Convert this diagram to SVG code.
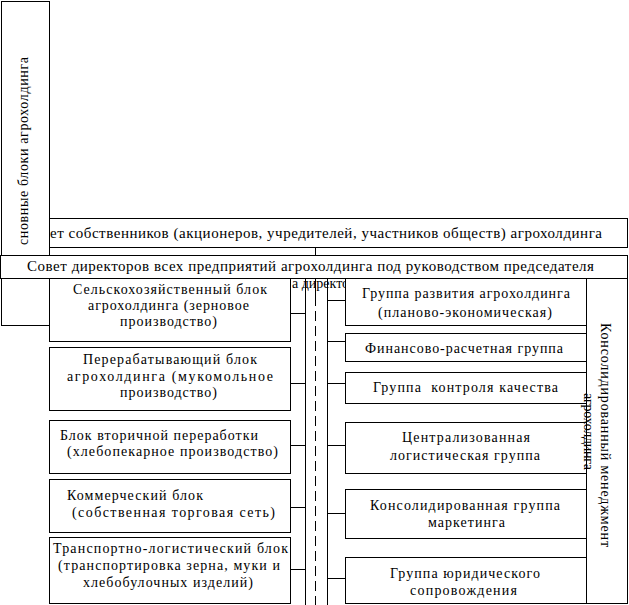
<svg xmlns="http://www.w3.org/2000/svg" width="629" height="605" viewBox="0 0 629 605">
<style>
.b{fill:#fff;stroke:#000;stroke-width:1}
.c{stroke:#000;stroke-width:1;fill:none}
.d{stroke-dasharray:10 5}
</style>
<g id="owners">
<rect class="b" x="40.5" y="218.5" width="587" height="29"/>
<text font-family="Liberation Serif" font-size="15" x="50" y="238" textLength="552" lengthAdjust="spacing">ет собственников (акционеров, учредителей, участников обществ) агрохолдинга</text>
</g>
<g id="main-blocks">
<rect class="b" x="1.5" y="1.5" width="48" height="324"/>
<text font-family="Liberation Serif" font-size="14" transform="translate(28,245) rotate(-90)" textLength="188" lengthAdjust="spacing">сновные блоки агрохолдинга</text>
</g>
<g id="directors">
<rect class="b" x="0.5" y="255.5" width="627" height="23"/>
<text font-family="Liberation Serif" font-size="15" x="27" y="271" textLength="567" lengthAdjust="spacing">Совет директоров всех предприятий агрохолдинга под руководством председателя</text>
</g>
<g id="hidden-label">
<text font-family="Liberation Serif" font-size="14" x="292" y="288">а директо</text>
</g>
<g id="connectors">
<line class="c" x1="315.5" y1="247.5" x2="315.5" y2="255.5"/>
<line class="c" x1="305.5" y1="278.5" x2="305.5" y2="605"/>
<line class="c" x1="327.5" y1="278.5" x2="327.5" y2="605"/>
<line class="c" x1="315.5" y1="278.5" x2="315.5" y2="296"/>
<line class="c d" x1="315.5" y1="296" x2="315.5" y2="605"/>
<line class="c" x1="290.5" y1="313.5" x2="305.5" y2="313.5"/>
<line class="c" x1="290.5" y1="383.5" x2="305.5" y2="383.5"/>
<line class="c" x1="290.5" y1="445.5" x2="305.5" y2="445.5"/>
<line class="c" x1="290.5" y1="507.5" x2="305.5" y2="507.5"/>
<line class="c" x1="290.5" y1="569.5" x2="305.5" y2="569.5"/>
<line class="c" x1="327.5" y1="300.5" x2="345.5" y2="300.5"/>
<line class="c" x1="327.5" y1="341.5" x2="345.5" y2="341.5"/>
<line class="c" x1="327.5" y1="383.5" x2="345.5" y2="383.5"/>
<line class="c" x1="327.5" y1="445.5" x2="345.5" y2="445.5"/>
<line class="c" x1="327.5" y1="513.5" x2="345.5" y2="513.5"/>
<line class="c" x1="327.5" y1="578.5" x2="345.5" y2="578.5"/>
</g>
<g id="agri" font-family="Liberation Serif" font-size="14">
<rect class="b" x="49.5" y="278.5" width="241" height="63"/>
<text font-family="Liberation Serif" x="73" y="294" textLength="194" lengthAdjust="spacing">Сельскохозяйственный блок</text>
<text font-family="Liberation Serif" x="88" y="310" textLength="161" lengthAdjust="spacing">агрохолдинга (зерновое</text>
<text font-family="Liberation Serif" x="120" y="326" textLength="97" lengthAdjust="spacing">производство)</text>
</g>
<g id="processing" font-family="Liberation Serif" font-size="14">
<rect class="b" x="49.5" y="347.5" width="241" height="63"/>
<text font-family="Liberation Serif" x="83" y="364" textLength="174" lengthAdjust="spacing">Перерабатывающий блок</text>
<text font-family="Liberation Serif" x="67" y="381" textLength="206" lengthAdjust="spacing">агрохолдинга (мукомольное</text>
<text font-family="Liberation Serif" x="120" y="397" textLength="97" lengthAdjust="spacing">производство)</text>
</g>
<g id="secondary" font-family="Liberation Serif" font-size="14">
<rect class="b" x="49.5" y="420.5" width="241" height="53"/>
<text font-family="Liberation Serif" x="60" y="440" textLength="198" lengthAdjust="spacing">Блок вторичной переработки</text>
<text font-family="Liberation Serif" x="67" y="456" textLength="211" lengthAdjust="spacing">(хлебопекарное производство)</text>
</g>
<g id="commercial" font-family="Liberation Serif" font-size="14">
<rect class="b" x="49.5" y="479.5" width="241" height="53"/>
<text font-family="Liberation Serif" x="67" y="500" textLength="136" lengthAdjust="spacing">Коммерческий блок</text>
<text font-family="Liberation Serif" x="72" y="517" textLength="203" lengthAdjust="spacing">(собственная торговая сеть)</text>
</g>
<g id="transport" font-family="Liberation Serif" font-size="14">
<rect class="b" x="49.5" y="537.5" width="241" height="66"/>
<text font-family="Liberation Serif" x="53" y="553" textLength="235" lengthAdjust="spacing">Транспортно-логистический блок</text>
<text font-family="Liberation Serif" x="58" y="570" textLength="222" lengthAdjust="spacing">(транспортировка зерна, муки и</text>
<text font-family="Liberation Serif" x="83" y="587" textLength="170" lengthAdjust="spacing">хлебобулочных изделий)</text>
</g>
<g id="development" font-family="Liberation Serif" font-size="14">
<rect class="b" x="345.5" y="278.5" width="241" height="47"/>
<text font-family="Liberation Serif" x="362" y="298" textLength="208" lengthAdjust="spacing">Группа развития агрохолдинга</text>
<text font-family="Liberation Serif" x="378" y="317" textLength="174" lengthAdjust="spacing">(планово-экономическая)</text>
</g>
<g id="finance" font-family="Liberation Serif" font-size="14">
<rect class="b" x="345.5" y="333.5" width="241" height="28"/>
<text font-family="Liberation Serif" x="365" y="353" textLength="198" lengthAdjust="spacing">Финансово-расчетная группа</text>
</g>
<g id="quality" font-family="Liberation Serif" font-size="14">
<rect class="b" x="345.5" y="372.5" width="241" height="31"/>
<text font-family="Liberation Serif" x="373" y="392" textLength="185" lengthAdjust="spacing">Группа &#160;контроля качества</text>
</g>
<g id="logistics" font-family="Liberation Serif" font-size="14">
<rect class="b" x="345.5" y="422.5" width="241" height="51"/>
<text font-family="Liberation Serif" x="402" y="442" textLength="128" lengthAdjust="spacing">Централизованная</text>
<text font-family="Liberation Serif" x="390" y="460" textLength="150" lengthAdjust="spacing">логистическая группа</text>
</g>
<g id="marketing" font-family="Liberation Serif" font-size="14">
<rect class="b" x="345.5" y="489.5" width="241" height="49"/>
<text font-family="Liberation Serif" x="370" y="510" textLength="190" lengthAdjust="spacing">Консолидированная группа</text>
<text font-family="Liberation Serif" x="428" y="527" textLength="77" lengthAdjust="spacing">маркетинга</text>
</g>
<g id="legal" font-family="Liberation Serif" font-size="14">
<rect class="b" x="345.5" y="557.5" width="241" height="46"/>
<text font-family="Liberation Serif" x="390" y="578" textLength="150" lengthAdjust="spacing">Группа юридического</text>
<text font-family="Liberation Serif" x="410" y="595" textLength="107" lengthAdjust="spacing">сопровождения</text>
</g>
<g id="consolidated" font-family="Liberation Serif" font-size="14">
<rect class="b" x="586.5" y="278.5" width="41" height="325"/>
<text font-family="Liberation Serif" transform="translate(601,323) rotate(90)" textLength="224" lengthAdjust="spacing">Консолидированный менеджмент</text>
<text font-family="Liberation Serif" transform="translate(584,393) rotate(90)" textLength="77" lengthAdjust="spacing">агрохолдинга</text>
</g>
</svg>
